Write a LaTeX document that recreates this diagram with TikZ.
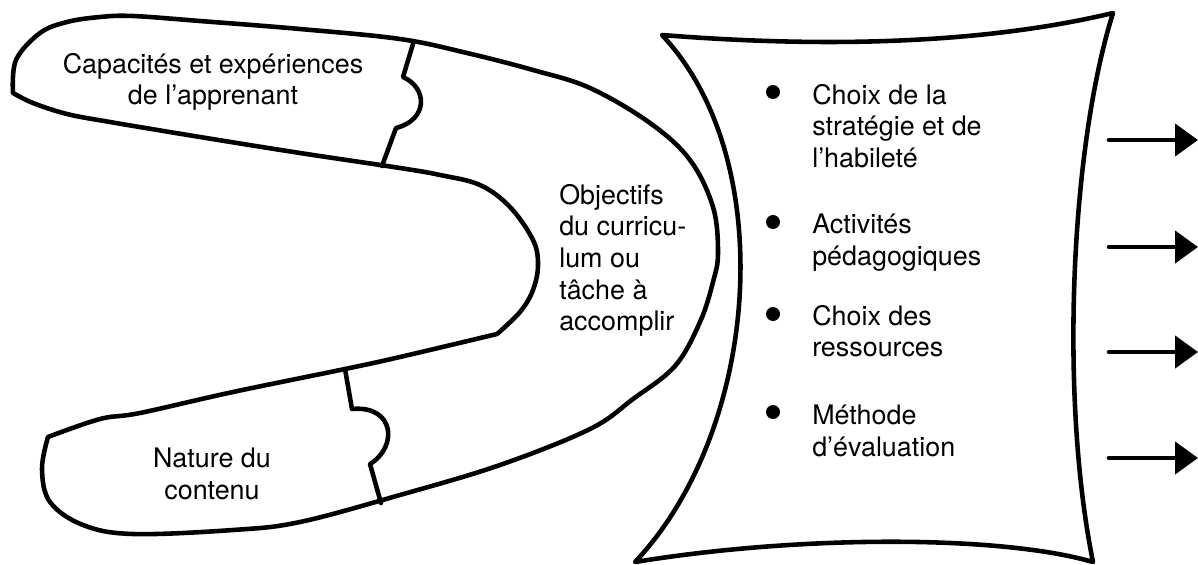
\documentclass[tikz,border=0pt]{standalone}
\usepackage{fontspec}
\setmainfont{TeX Gyre Heros}
\usetikzlibrary{arrows.meta}

\begin{document}
\begin{tikzpicture}[x=0.02cm,y=-0.02cm,line width=2.6pt,line join=round,line cap=round]
            \tikzstyle{txt}=[align=center,inner sep=0pt,font=\fontsize{15.3pt}{18pt}\selectfont]
            \tikzstyle{item}=[align=left,anchor=north west,inner sep=0pt,font=\fontsize{15.3pt}{18pt}\selectfont]
            \tikzstyle{dot}=[circle,fill=black,minimum size=0.28cm,inner sep=0pt]
            \tikzstyle{outarrow}=[-{Triangle[length=0.46cm,width=0.64cm]}]
            \useasboundingbox (0,0) rectangle (1198,565);

                % the U made of three pieces
                \draw plot[smooth,tension=0.6] coordinates {(13,93) (16,60) (40,33) (67,22) (100,17) (133,16) (200,21) (300,29) (400,39) (467,53) (533,70) (590,88) (650,123) (690,160) (713,207) (718,253) (713,282) (700,322) (675,366) (633,399) (590,429) (500,465) (400,495) (300,522) (233,530) (133,534) (83,525) (50,502) (42,469) (48,437)}
                    -- plot[smooth,tension=0.6] coordinates {(48,437) (100,419) (140,413) (233,392) (345,369) (400,357) (497,334)}
                    -- plot[smooth,tension=0.6] coordinates {(497,334) (520,312) (533,290) (538,265) (533,240) (510,207) (480,185) (440,175) (400,168) (300,153) (200,137) (110,122) (67,114) (33,103) (13,93)}
                    -- cycle;
                \draw (413,44) -- (403,77) .. controls (428,88) and (428,120) .. (396,128) -- (382,166);
                \draw (345,369) -- (352,409) .. controls (395,405) and (398,447) .. (370,464) -- (381,503);

                % the box on the right
                \draw (662,35) .. controls (850,50) and (1000,40) .. (1113,13)
                    .. controls (1070,150) and (1060,400) .. (1093,562)
                    .. controls (1000,535) and (800,535) .. (635,562)
                    .. controls (760,430) and (780,160) .. (662,35) -- cycle;

                \node[txt] (learner) at (213,82) {Capacités et expériences\\de l’apprenant};
                \node[txt] (content) at (212,474) {Nature du\\contenu};
                \node[item] (goals) at (557,182) {Objectifs\\du curricu-\\lum ou\\tâche à\\accomplir};

                \node[item] (I-1) at (810,82) {Choix de la\\stratégie et de\\l’habileté};
                \node[item] (I-2) at (810,212) {Activités\\pédagogiques};
                \node[item] (I-3) at (810,303) {Choix des\\ressources};
                \node[item] (I-4) at (810,403) {Méthode\\d’évaluation};

                \foreach \i/\y in {1/92, 2/222, 3/314, 4/412}
                    \node[dot] (D-\i) at (773,\y) {};

                \foreach \i/\y in {1/140, 2/247, 3/352, 4/458}{
                    \coordinate (S-\i) at (1109,\y);
                    \coordinate (E-\i) at (1198,\y);
                    \draw[outarrow] (S-\i) -- (E-\i);
                }
        \end{tikzpicture}
\end{document}
